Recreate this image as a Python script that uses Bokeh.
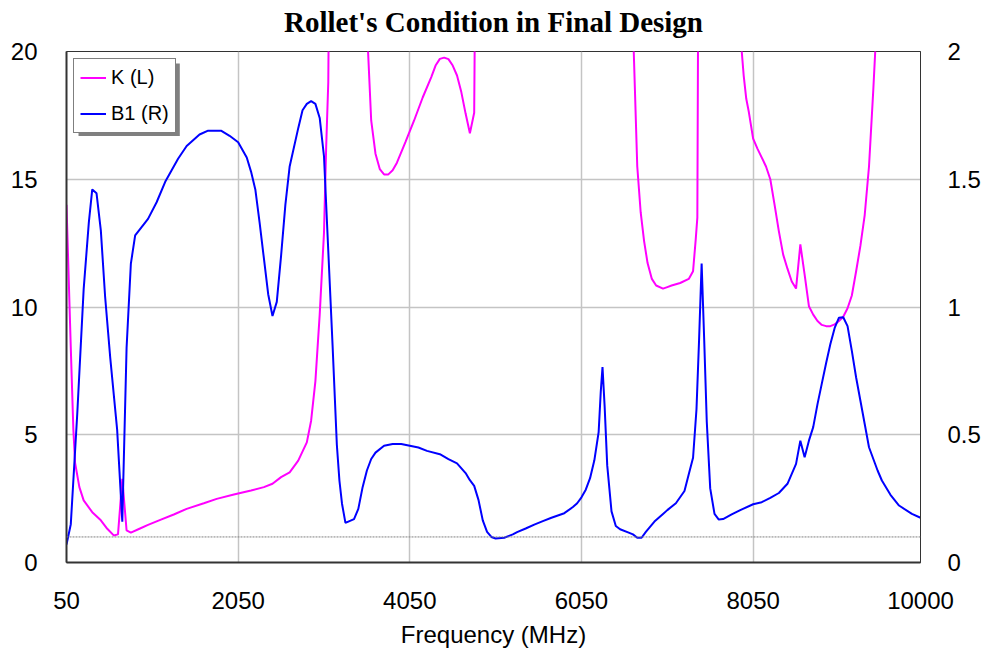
from bokeh.plotting import figure
from bokeh.models import (Range1d, LinearAxis, FixedTicker, Span, Legend, LegendItem,
                          BoxAnnotation, CustomJSTickFormatter, Title)
from bokeh.embed import file_html
from bokeh.resources import INLINE

# ---------------- data ----------------
freq_k = [50, 100, 130, 150, 200, 250, 350, 450, 525, 600, 650, 700, 750, 800, 900,
          1000, 1150, 1300, 1450, 1650, 1800, 2000, 2200, 2350, 2450, 2550, 2650,
          2750, 2850, 2900, 2950, 3000, 3050, 3075, 3100, 3150, 3300, 3500, 3550,
          3600, 3650, 3700, 3750, 3800, 3850, 3900, 4000, 4100, 4200, 4300, 4350,
          4400, 4450, 4500, 4550, 4600, 4650, 4700, 4750, 4800, 4850, 5500, 6000,
          6600, 6650, 6700, 6740, 6780, 6820, 6870, 6920, 7000, 7050, 7100, 7200,
          7300, 7350, 7380, 7400, 7430, 7600, 7880, 7910, 7940, 7970, 8000, 8050,
          8100, 8200, 8250, 8300, 8350, 8400, 8450, 8500, 8550, 8600, 8650, 8700,
          8750, 8800, 8850, 8900, 8950, 9000, 9050, 9100, 9150, 9200, 9250, 9300,
          9350, 9400, 9450, 9480, 9550, 10000]
k_vals = [14.0, 8.4, 5.2, 3.9, 2.95, 2.43, 1.97, 1.65, 1.32, 1.06, 1.10, 3.27, 1.26, 1.17, 1.32,
          1.47, 1.68, 1.88, 2.10, 2.32, 2.49, 2.66, 2.82, 2.95, 3.08, 3.34, 3.53,
          3.99, 4.70, 5.55, 7.1, 9.7, 12.9, 16.2, 18.8, 40, 60, 40, 21,
          17.3, 16.0, 15.4, 15.19, 15.19, 15.35, 15.65, 16.46, 17.3, 18.2, 19.0, 19.45,
          19.71, 19.76, 19.7, 19.45, 19.06, 18.41, 17.57, 16.8, 17.6, 40, 80, 60,
          40, 21, 15.5, 13.7, 12.57, 11.72, 11.1, 10.84, 10.72, 10.78, 10.84, 10.94,
          11.1, 11.4, 12.6, 13.5, 40, 60, 40, 20.3, 19.06, 18.15, 17.63, 16.59,
          16.2, 15.5, 15.0, 14.0, 12.96, 12.05, 11.5, 11.0, 10.72, 12.45, 11.27, 10.03,
          9.7, 9.45, 9.3, 9.25, 9.25, 9.32, 9.45, 9.62, 9.95, 10.45, 11.4, 12.4,
          13.6, 15.5, 18.5, 20.5, 40, 80]

freq_b1 = [50, 100, 175, 250, 310, 350, 400, 450, 500, 560, 640, 700, 750, 800, 850,
           1000, 1100, 1200, 1350, 1450, 1600, 1700, 1850, 1950, 2050, 2150, 2200,
           2250, 2300, 2350, 2400, 2450, 2500, 2550, 2600, 2650, 2750, 2800, 2850,
           2900, 2950, 3000, 3050, 3100, 3150, 3200, 3230, 3260, 3300, 3400, 3450,
           3500, 3550, 3600, 3650, 3750, 3850, 3950, 4050, 4150, 4250, 4400, 4500,
           4600, 4700, 4750, 4800, 4850, 4900, 4950, 5000, 5050, 5150, 5250, 5300,
           5400, 5500, 5600, 5700, 5850, 5950, 6000, 6050, 6100, 6150, 6200, 6250,
           6275, 6295, 6320, 6350, 6400, 6450, 6500, 6600, 6650, 6700, 6750, 6800,
           6900, 7000, 7050, 7150, 7250, 7300, 7350, 7390, 7420, 7450, 7480, 7510,
           7550, 7600, 7650, 7700, 7800, 7900, 8050, 8150, 8250, 8350, 8450, 8500,
           8550, 8600, 8650, 8700, 8750, 8800, 8850, 8900, 8950, 9000, 9050, 9100,
           9150, 9200, 9250, 9300, 9350, 9400, 9500, 9550, 9650, 9750, 9900, 10000]
b1_vals = [0.07, 0.15, 0.58, 1.07, 1.33, 1.46, 1.445, 1.30, 1.04, 0.80, 0.52, 0.16, 0.84, 1.17, 1.28,
           1.345, 1.41, 1.49, 1.58, 1.63, 1.675, 1.69, 1.69, 1.67, 1.645, 1.585, 1.53,
           1.46, 1.33, 1.19, 1.05, 0.965, 1.02, 1.20, 1.40, 1.55, 1.70, 1.77, 1.795,
           1.806, 1.795, 1.74, 1.59, 1.22, 0.85, 0.46, 0.32, 0.23, 0.155, 0.17, 0.21,
           0.295, 0.36, 0.405, 0.43, 0.457, 0.464, 0.464, 0.457, 0.45, 0.437, 0.424, 0.405,
           0.388, 0.35, 0.322, 0.30, 0.245, 0.165, 0.12, 0.10, 0.094, 0.097, 0.11, 0.119,
           0.133, 0.148, 0.162, 0.175, 0.193, 0.217, 0.232, 0.255, 0.285, 0.33, 0.40, 0.51,
           0.67, 0.765, 0.61, 0.38, 0.20, 0.143, 0.13, 0.117, 0.11, 0.097, 0.097, 0.12,
           0.16, 0.19, 0.205, 0.232, 0.28, 0.345, 0.41, 0.60, 0.87, 1.17, 0.87, 0.55,
           0.29, 0.19, 0.168, 0.17, 0.188, 0.205, 0.228, 0.236, 0.253, 0.272, 0.308, 0.347,
           0.386, 0.477, 0.412, 0.477, 0.53, 0.62, 0.70, 0.78, 0.855, 0.918, 0.958, 0.96,
           0.925, 0.828, 0.724, 0.633, 0.542, 0.451, 0.36, 0.321, 0.265, 0.223, 0.19, 0.175]

x_ticks = [50, 2050, 4050, 6050, 8050, 10000]
left_ticks = [0, 5, 10, 15, 20]
right_ticks = [0, 0.5, 1, 1.5, 2]
k_threshold = 1

title_text = "Rollet's Condition in Final Design"
x_label = "Frequency (MHz)"
legend_k = "K (L)"
legend_b1 = "B1 (R)"

# ---------------- figure ----------------
FONT = "Liberation Sans"
p = figure(width=989, height=657, output_backend="svg", toolbar_location=None,
           x_range=Range1d(50, 10000), y_range=Range1d(0, 20),
           min_border_left=66, min_border_right=69, min_border_top=49, min_border_bottom=95,
           background_fill_color="white", border_fill_color="white")
p.extra_y_ranges = {"right": Range1d(0, 2)}

# small empty spacer panel between the title and the frame
p.add_layout(Title(text=" ", text_font_size="1px", standoff=4), "above")

p.title.text = title_text
p.title.align = "center"
p.title.vertical_align = "top"
p.title.text_font = "Liberation Serif"
p.title.text_font_style = "bold"
p.title.text_font_size = "29px"
p.title.text_color = "black"
p.title.standoff = 10

p.outline_line_color = "#333333"
p.outline_line_width = 1

fmt = CustomJSTickFormatter(code="return tick.toString();")

xa = p.xaxis[0]
xa.ticker = FixedTicker(ticks=x_ticks)
xa.formatter = fmt
xa.axis_label = x_label
xa.axis_label_text_font = FONT
xa.axis_label_text_font_style = "normal"
xa.axis_label_text_font_size = "24px"
xa.axis_label_standoff = 9
xa.major_label_text_font = FONT
xa.major_label_text_font_size = "24px"
xa.major_label_standoff = 29

ya = p.yaxis[0]
ya.ticker = FixedTicker(ticks=left_ticks)
ya.formatter = fmt
ya.major_label_text_font = FONT
ya.major_label_text_font_size = "24px"
ya.major_label_standoff = 29

ra = LinearAxis(y_range_name="right", ticker=FixedTicker(ticks=right_ticks), formatter=fmt)
ra.major_label_text_font = FONT
ra.major_label_text_font_size = "24px"
ra.major_label_standoff = 27
p.add_layout(ra, "right")

for ax in (xa, ya, ra):
    ax.major_tick_out = 0
    ax.major_tick_in = 0
    ax.minor_tick_out = 0
    ax.minor_tick_in = 0
    ax.major_label_text_color = "black"
    ax.axis_label_text_color = "black"
xa.axis_line_color = "#333333"
xa.axis_line_width = 2
ya.axis_line_color = "#333333"
ya.axis_line_width = 2
ra.axis_line_color = "#333333"
ra.axis_line_width = 1

p.xgrid.ticker = FixedTicker(ticks=x_ticks)
p.ygrid.ticker = FixedTicker(ticks=left_ticks)
p.xgrid.grid_line_color = "#c4c4c4"
p.ygrid.grid_line_color = "#c4c4c4"
p.xgrid.grid_line_width = 1.5
p.ygrid.grid_line_width = 1.5

p.add_layout(Span(location=k_threshold, dimension="width", line_color="#808080",
                  line_width=1, line_dash="2 1"))

rk = p.line(freq_k, k_vals, line_color="#FF00FF", line_width=2)
rb = p.line(freq_b1, b1_vals, line_color="#0000FF", line_width=2, y_range_name="right")

# legend shadow (decoration behind the legend box)
p.add_layout(BoxAnnotation(left=190, right=1370, top=19.53, bottom=16.69,
                           fill_color="#808080", fill_alpha=1, line_color=None))

legend = Legend(items=[LegendItem(label=legend_k, renderers=[rk]),
                       LegendItem(label=legend_b1, renderers=[rb])],
                location="top_left", margin=7, padding=6, spacing=11,
                glyph_width=26, glyph_height=25, label_height=25, label_standoff=5,
                label_text_font=FONT, label_text_font_size="20px", label_text_color="black",
                border_line_color="black", border_line_width=1,
                background_fill_color="white", background_fill_alpha=1)
p.add_layout(legend)

open("out.html", "w").write(file_html(p, INLINE))
